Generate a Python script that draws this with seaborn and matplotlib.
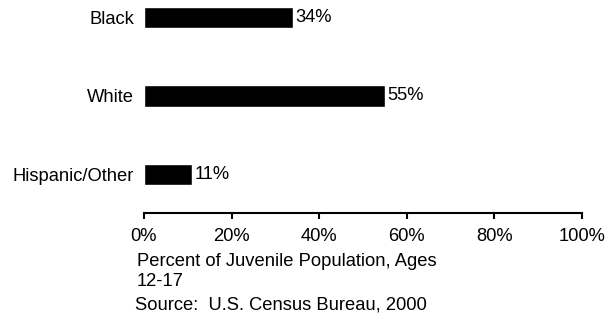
import pandas as pd
import seaborn as sns
import matplotlib.pyplot as plt
from matplotlib.ticker import PercentFormatter

groups = ['Black', 'White', 'Hispanic/Other']
shares = [34, 55, 11]
xticks = [0, 20, 40, 60, 80, 100]

df = pd.DataFrame({'group': groups, 'share': shares})

sns.set_style('white')
plt.rcParams['font.family'] = ['Liberation Sans', 'DejaVu Sans']
plt.rcParams['text.color'] = 'black'
plt.rcParams['xtick.color'] = 'black'
plt.rcParams['ytick.color'] = 'black'

fs = 13.2

fig = plt.figure(figsize=(6.05, 3.18), dpi=100)
ax = fig.add_axes([0.238, 0.330, 0.724, 0.670])

sns.barplot(data=df, x='share', y='group', orient='h', color='black',
            width=0.27, saturation=1, ax=ax)
ax.bar_label(ax.containers[0], fmt='%d%%', padding=2, fontsize=fs, color='black')

ax.set_xlim(0, 100)
ax.set_ylim(2.5, -0.23)
ax.set_xticks(xticks)
ax.xaxis.set_major_formatter(PercentFormatter(decimals=0))
ax.set_xlabel('')
ax.set_ylabel('')
ax.tick_params(axis='x', bottom=True, direction='out', length=4, width=1.5,
               color='black', labelcolor='black', labelsize=fs, pad=7)
ax.tick_params(axis='y', left=False, length=0, labelcolor='black',
               labelsize=fs, pad=7)
for side in ['top', 'right', 'left']:
    ax.spines[side].set_visible(False)
ax.spines['bottom'].set_linewidth(1.5)
ax.spines['bottom'].set_color('black')

fig.text(0.226, 1 - 253 / 318, 'Percent of Juvenile Population, Ages\n12-17',
         ha='left', va='top', fontsize=fs, linespacing=1.25, color='black')
fig.text(0.223, 1 - 297 / 318, 'Source:  U.S. Census Bureau, 2000',
         ha='left', va='top', fontsize=fs, color='black')

fig.savefig('out.png', dpi=100)
